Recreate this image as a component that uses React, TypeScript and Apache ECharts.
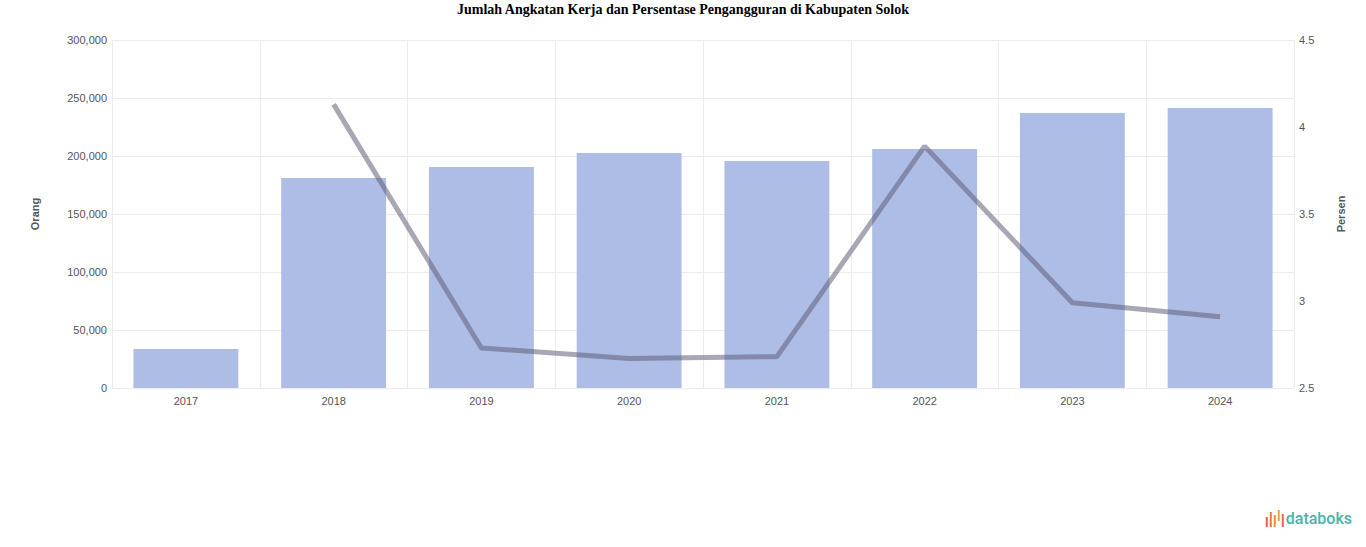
import React, { useEffect, useRef } from "react";
import * as echarts from "echarts";

const years = ["2017", "2018", "2019", "2020", "2021", "2022", "2023", "2024"];
const angkatanKerja = [33600, 181000, 190500, 202600, 195700, 206000, 237000, 241400];
const pengangguran: (number | null)[] = [null, 4.13, 2.73, 2.67, 2.68, 3.89, 2.99, 2.91];

const TITLE = "Jumlah Angkatan Kerja dan Persentase Pengangguran di Kabupaten Solok";

export default function App() {
  const ref = useRef<HTMLDivElement>(null);
  useEffect(() => {
    if (!ref.current) return;
    const chart = echarts.init(ref.current, null, { renderer: "svg" });
    const labelStyle = { color: "#555", fontSize: 11, fontFamily: "Arial, Liberation Sans, sans-serif" };
    chart.setOption({
      animation: false,
      backgroundColor: "#fff",
      title: {
        text: TITLE,
        left: "center",
        top: -3,
        textStyle: { fontFamily: "Liberation Serif, Times New Roman, serif", fontWeight: "bold", fontSize: 14, color: "#000" },
      },
      grid: { left: 112, right: 72, top: 40, bottom: 159 },
      xAxis: {
        type: "category",
        data: years,
        axisLine: { show: false },
        axisTick: { show: false, alignWithLabel: true },
        axisLabel: { ...labelStyle, margin: 7 },
        splitLine: { show: true, lineStyle: { color: "#ececec", width: 1 } },
      },
      yAxis: [
        {
          type: "value",
          min: 0,
          max: 300000,
          interval: 50000,
          name: "Orang",
          nameLocation: "middle",
          nameGap: 72,
          nameTextStyle: { ...labelStyle, fontWeight: "bold" },
          axisLabel: {
            ...labelStyle,
            margin: 5,
            formatter: (v: number) => v.toLocaleString("en-US"),
          },
          axisLine: { show: false },
          axisTick: { show: false },
          splitLine: { lineStyle: { color: "#ececec", width: 1 } },
        },
        {
          type: "value",
          min: 2.5,
          max: 4.5,
          interval: 0.5,
          name: "Persen",
          nameLocation: "middle",
          nameGap: 41,
          nameTextStyle: { ...labelStyle, fontWeight: "bold" },
          axisLabel: { ...labelStyle, margin: 5 },
          axisLine: { show: false },
          axisTick: { show: false },
          splitLine: { show: false },
        },
      ],
      series: [
        {
          type: "bar",
          name: "Angkatan Kerja",
          data: angkatanKerja,
          yAxisIndex: 0,
          barCategoryGap: "29%",
          itemStyle: { color: "#aebde6" },
        },
        {
          type: "line",
          name: "Pengangguran",
          data: pengangguran,
          yAxisIndex: 1,
          showSymbol: false,
          symbol: "none",
          lineStyle: { color: "rgba(95,95,120,0.55)", width: 5 },
          z: 5,
        },
      ],
      graphic: [
        {
          type: "group",
          right: 14,
          bottom: 20,
          children: [
            { type: "rect", shape: { x: 0, y: 7, width: 2, height: 10 }, style: { fill: "#f05a4a" } },
            { type: "rect", shape: { x: 4, y: 2, width: 2, height: 15 }, style: { fill: "#f3723f" } },
            { type: "rect", shape: { x: 8, y: 5, width: 2, height: 12 }, style: { fill: "#f6893a" } },
            { type: "rect", shape: { x: 12, y: 0, width: 2, height: 11 }, style: { fill: "#f9a03a" } },
            { type: "rect", shape: { x: 16, y: 4, width: 2, height: 13 }, style: { fill: "#f0644a" } },
            {
              type: "text",
              x: 20,
              y: 0,
              style: {
                text: "databoks",
                fill: "#48b3ab",
                font: "500 16px Roboto, 'Noto Sans', sans-serif",
              },
            },
          ],
        },
      ],
    });
    return () => chart.dispose();
  }, []);
  return <div ref={ref} style={{ position: "absolute", left: 0, top: 0, width: 1366, height: 547 }} />;
}
